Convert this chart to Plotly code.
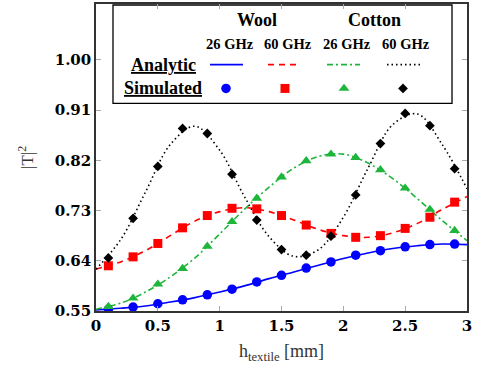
import plotly.graph_objects as go

# ---- data ----
x_sim = [0.1, 0.3, 0.5, 0.7, 0.9, 1.1, 1.3, 1.5, 1.7, 1.9, 2.1, 2.3, 2.5, 2.7, 2.9]
wool26_sim = [0.553, 0.557, 0.563, 0.570, 0.579, 0.589, 0.602, 0.614, 0.627, 0.638, 0.650, 0.658, 0.665, 0.669, 0.670]
wool60_sim = [0.631, 0.647, 0.671, 0.699, 0.721, 0.734, 0.733, 0.721, 0.704, 0.689, 0.682, 0.685, 0.698, 0.718, 0.745]
cot26_sim = [0.558, 0.573, 0.598, 0.626, 0.666, 0.710, 0.752, 0.790, 0.819, 0.831, 0.825, 0.803, 0.770, 0.732, 0.694]
cot60_sim = [0.645, 0.716, 0.809, 0.877, 0.868, 0.795, 0.713, 0.660, 0.650, 0.684, 0.758, 0.850, 0.904, 0.882, 0.805]

x_ana = [0.0, 0.2, 0.4, 0.6, 0.8, 1.0, 1.2, 1.4, 1.6, 1.8, 2.0, 2.2, 2.4, 2.6, 2.8, 3.0]
wool26_ana = [0.552, 0.555, 0.559, 0.566, 0.574, 0.584, 0.595, 0.608, 0.620, 0.632, 0.644, 0.654, 0.662, 0.667, 0.670, 0.669]
wool60_ana = [0.625, 0.638, 0.658, 0.685, 0.711, 0.728, 0.735, 0.728, 0.713, 0.696, 0.685, 0.682, 0.690, 0.707, 0.732, 0.755]
cot26_ana = [0.553, 0.564, 0.584, 0.611, 0.645, 0.688, 0.732, 0.772, 0.806, 0.827, 0.831, 0.815, 0.787, 0.751, 0.712, 0.676]
cot60_ana = [0.625, 0.678, 0.763, 0.848, 0.881, 0.838, 0.755, 0.683, 0.648, 0.660, 0.718, 0.806, 0.884, 0.903, 0.848, 0.769]

y_ticks = [0.55, 0.64, 0.73, 0.82, 0.91, 1.00]
x_ticks = [0, 0.5, 1, 1.5, 2, 2.5, 3]
x_ticklabels = ["0", "0.5", "1", "1.5", "2", "2.5", "3"]

series = [
    (wool26_ana, wool26_sim, "blue", "solid", "circle", 9.5),
    (wool60_ana, wool60_sim, "red", "6px,5px", "square", 9),
    (cot26_ana, cot26_sim, "#1db53a", "6px,3px,2px,3px", "triangle-up", 9.5),
    (cot60_ana, cot60_sim, "black", "1.5px,3px", "diamond", 7.5),
]

X_RANGE = [0, 3]
Y_RANGE = [0.55, 1.10]

fig = go.Figure()
for ana, sim, col, dash, sym, ms in series:
    fig.add_trace(go.Scatter(x=x_ana, y=ana, mode="lines", line=dict(color=col, width=1.6, dash=dash, shape="spline"),
                             showlegend=False, hoverinfo="skip"))
for ana, sim, col, dash, sym, ms in series:
    fig.add_trace(go.Scatter(x=x_sim, y=sim, mode="markers", marker=dict(color=col, symbol=sym, size=ms, line=dict(width=0)),
                             showlegend=False))

# ---- custom legend (table style), positioned in paper fractions of the plot area ----
LX0, LX1, LY0, LY1 = 0.0458, 0.9596, 0.6764, 0.9968
fig.add_shape(type="rect", xref="paper", yref="paper", x0=LX0, x1=LX1, y0=LY0, y1=LY1,
              fillcolor="white", line=dict(color="black", width=1.3), layer="below")

serif = "Liberation Serif"
ann = []
def txt(x, y, s, size, **kw):
    ann.append(dict(xref="paper", yref="paper", x=x, y=y, text=s, showarrow=False,
                    font=dict(family=serif, size=size, color="black"), xanchor="center", yanchor="middle", **kw))

txt(0.434, 0.948, "<b>Wool</b>", 18)
txt(0.752, 0.948, "<b>Cotton</b>", 18)
for gx, lab in zip([0.361, 0.5175, 0.6765, 0.8356], ["26 GHz", "60 GHz", "26 GHz", "60 GHz"]):
    txt(gx, 0.8706, "<b>" + lab + "</b>", 14.5)
txt(0.1806, 0.8026, "<b><u>Analytic</u></b>", 18)
txt(0.1806, 0.725, "<b><u>Simulated</u></b>", 18)

leg_lines = [(0.3073, 0.3962), (0.4636, 0.5445), (0.6226, 0.7116), (0.7844, 0.8733)]
leg_mx = [0.3504, 0.5094, 0.6685, 0.8275]
for (a, b), (ana, sim, col, dash, sym, ms) in zip(leg_lines, series):
    fig.add_shape(type="line", xref="paper", yref="paper", x0=a, x1=b, y0=0.8026, y1=0.8026,
                  line=dict(color=col, width=1.6, dash=dash), layer="above")

# legend marker samples (paper fraction -> main axis coordinates)
for f, (ana, sim, col, dash, sym, ms) in zip(leg_mx, series):
    fig.add_trace(go.Scatter(x=[X_RANGE[0] + f * (X_RANGE[1] - X_RANGE[0])],
                             y=[Y_RANGE[0] + 0.725 * (Y_RANGE[1] - Y_RANGE[0])], mode="markers",
                             marker=dict(color=col, symbol=sym, size=ms, line=dict(width=0)),
                             showlegend=False, hoverinfo="skip"))

# axis titles
ann.append(dict(xref="paper", yref="paper", x=-0.19, y=0.50, text="|T|<sup>2</sup>", showarrow=False,
                textangle=-90, font=dict(family=serif, size=17, color="#333"), xanchor="center", yanchor="middle"))
ann.append(dict(xref="paper", yref="paper", x=0.4987, y=-0.136, text="h<sub>textile</sub> [mm]", showarrow=False,
                font=dict(family=serif, size=18, color="#333"), xanchor="center", yanchor="middle"))

tickfont = dict(family="DejaVu Serif", size=15, color="black", weight="bold")
axis_common = dict(showline=True, linecolor="#333", linewidth=1.5, mirror="ticks", ticks="inside",
                   ticklen=5, tickcolor="#aaa", tickwidth=1, showgrid=False, zeroline=False, tickfont=tickfont)

fig.update_layout(
    width=477, height=368,
    margin=dict(l=96, r=10, t=2, b=57),
    paper_bgcolor="white", plot_bgcolor="white",
    xaxis=dict(range=X_RANGE, tickvals=x_ticks, ticktext=x_ticklabels, **axis_common),
    yaxis=dict(range=Y_RANGE, tickvals=y_ticks, ticktext=[f"{v:.2f}" for v in y_ticks], **axis_common),
    annotations=ann,
    showlegend=False,
    hovermode=False,
)

fig.write_html("out.html", config={"displayModeBar": False},
               post_script="document.body.style.margin='0';document.body.style.overflow='hidden';")
